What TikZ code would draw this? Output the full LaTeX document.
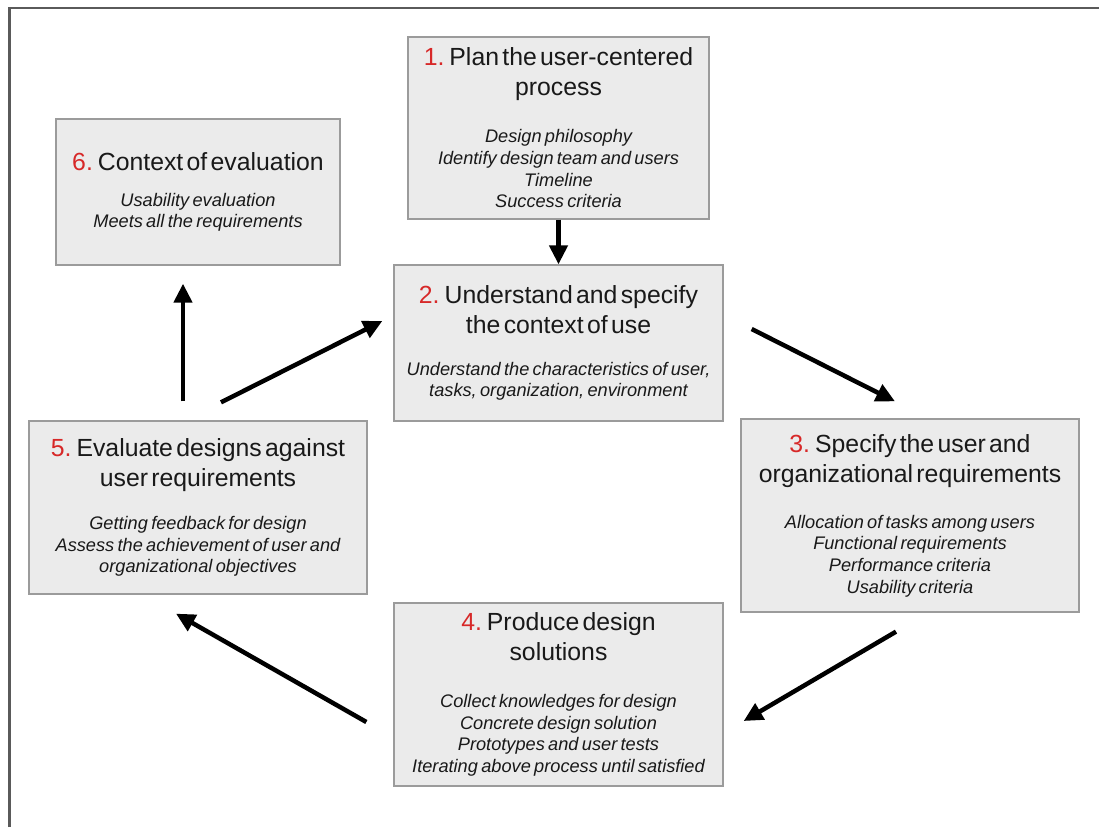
\documentclass[tikz,border=0pt]{standalone}
\usepackage{fontspec}
\setmainfont{Liberation Sans}[WordSpace=1.3]
\usepackage{xcolor}
\usepackage{tikz}
\usetikzlibrary{arrows.meta,calc}

\definecolor{boxfill}{RGB}{235,235,235}
\definecolor{boxline}{RGB}{155,155,155}
\definecolor{stepred}{RGB}{215,40,40}
\definecolor{framegray}{RGB}{90,90,90}
\definecolor{textdark}{RGB}{25,25,25}

\newcommand{\headfont}{\fontsize{24.8}{30}\selectfont}
\newcommand{\itemfont}{\fontsize{18.2}{21.7}\selectfont\itshape}
\newcommand{\stepno}[1]{\textcolor{stepred}{#1.}}

\tikzset{
  procbox/.style 2 args={draw=boxline, fill=boxfill, line width=1.3pt, text=textdark,
    align=center, inner sep=0pt, text width=#1, minimum height=#2},
  flow/.style={line width=4.5pt, -{Triangle[length=19pt,width=18pt]}},
}

\begin{document}
\begin{tikzpicture}[x=1pt, y=-1pt]
  \useasboundingbox (0,0) rectangle (1099,827);
  % frame
  \draw[framegray, line width=2.2pt] (9.5,827) -- (9.5,7.7) -- (1099,7.7);
  % process boxes
  \node[procbox={301pt}{182pt}] (plan) at (558.5,128)
    {{\headfont\stepno{1} Plan the user-centered\\ process\par}\vspace{25.3pt}
     {\itemfont Design philosophy\\ Identify design team and users\\ Timeline\\ Success criteria\par}};
  \node[procbox={329pt}{156pt}] (context) at (558.5,343)
    {{\headfont\stepno{2} Understand and specify\\ the context of use\par}\vspace{20.3pt}
     {\itemfont Understand the characteristics of user,\\ tasks, organization, environment\par}};
  \node[procbox={338pt}{193pt}] (specify) at (910,515.5)
    {{\headfont\stepno{3} Specify the user and\\ organizational requirements\par}\vspace{24.3pt}
     {\itemfont Allocation of tasks among users\\ Functional requirements\\ Performance criteria\\ Usability criteria\par}};
  \node[procbox={329pt}{183pt}] (produce) at (558.5,694.5)
    {{\headfont\stepno{4} Produce design\\ solutions\par}\vspace{25.3pt}
     {\itemfont Collect knowledges for design\\ Concrete design solution\\ Prototypes and user tests\\ Iterating above process until satisfied\par}};
  \node[procbox={338pt}{173pt}] (evaluate) at (198,507.5)
    {{\headfont\stepno{5} Evaluate designs against\\ user requirements\par}\vspace{21.3pt}
     {\itemfont Getting feedback for design\\ Assess the achievement of user and\\ organizational objectives\par}};
  \node[procbox={284pt}{146pt}] (evalctx) at (198,192)
    {{\headfont\stepno{6} Context of evaluation\par}\vspace{14.3pt}
     {\itemfont Usability evaluation\\ Meets all the requirements\par}};
  % arrows
  \draw[flow] (plan) -- (context);
  \draw[flow] ($(context.east)+(28,-14)$) -- ($(specify.north)+(-15,-17)$);
  \draw[flow] ($(specify.south)+(-14,19)$) -- ($(produce.east)+(20,26.5)$);
  \draw[flow] ($(produce.west)+(-27,27.5)$) -- ($(evaluate.south)+(-22,19)$);
  \draw[flow] ($(evaluate.north)+(23,-18)$) -- ($(context.west)+(-11,-22)$);
  \draw[flow] ($(evaluate.north)+(-15,-19)$) -- ($(evalctx.south)+(-15,18)$);
\end{tikzpicture}
\end{document}
